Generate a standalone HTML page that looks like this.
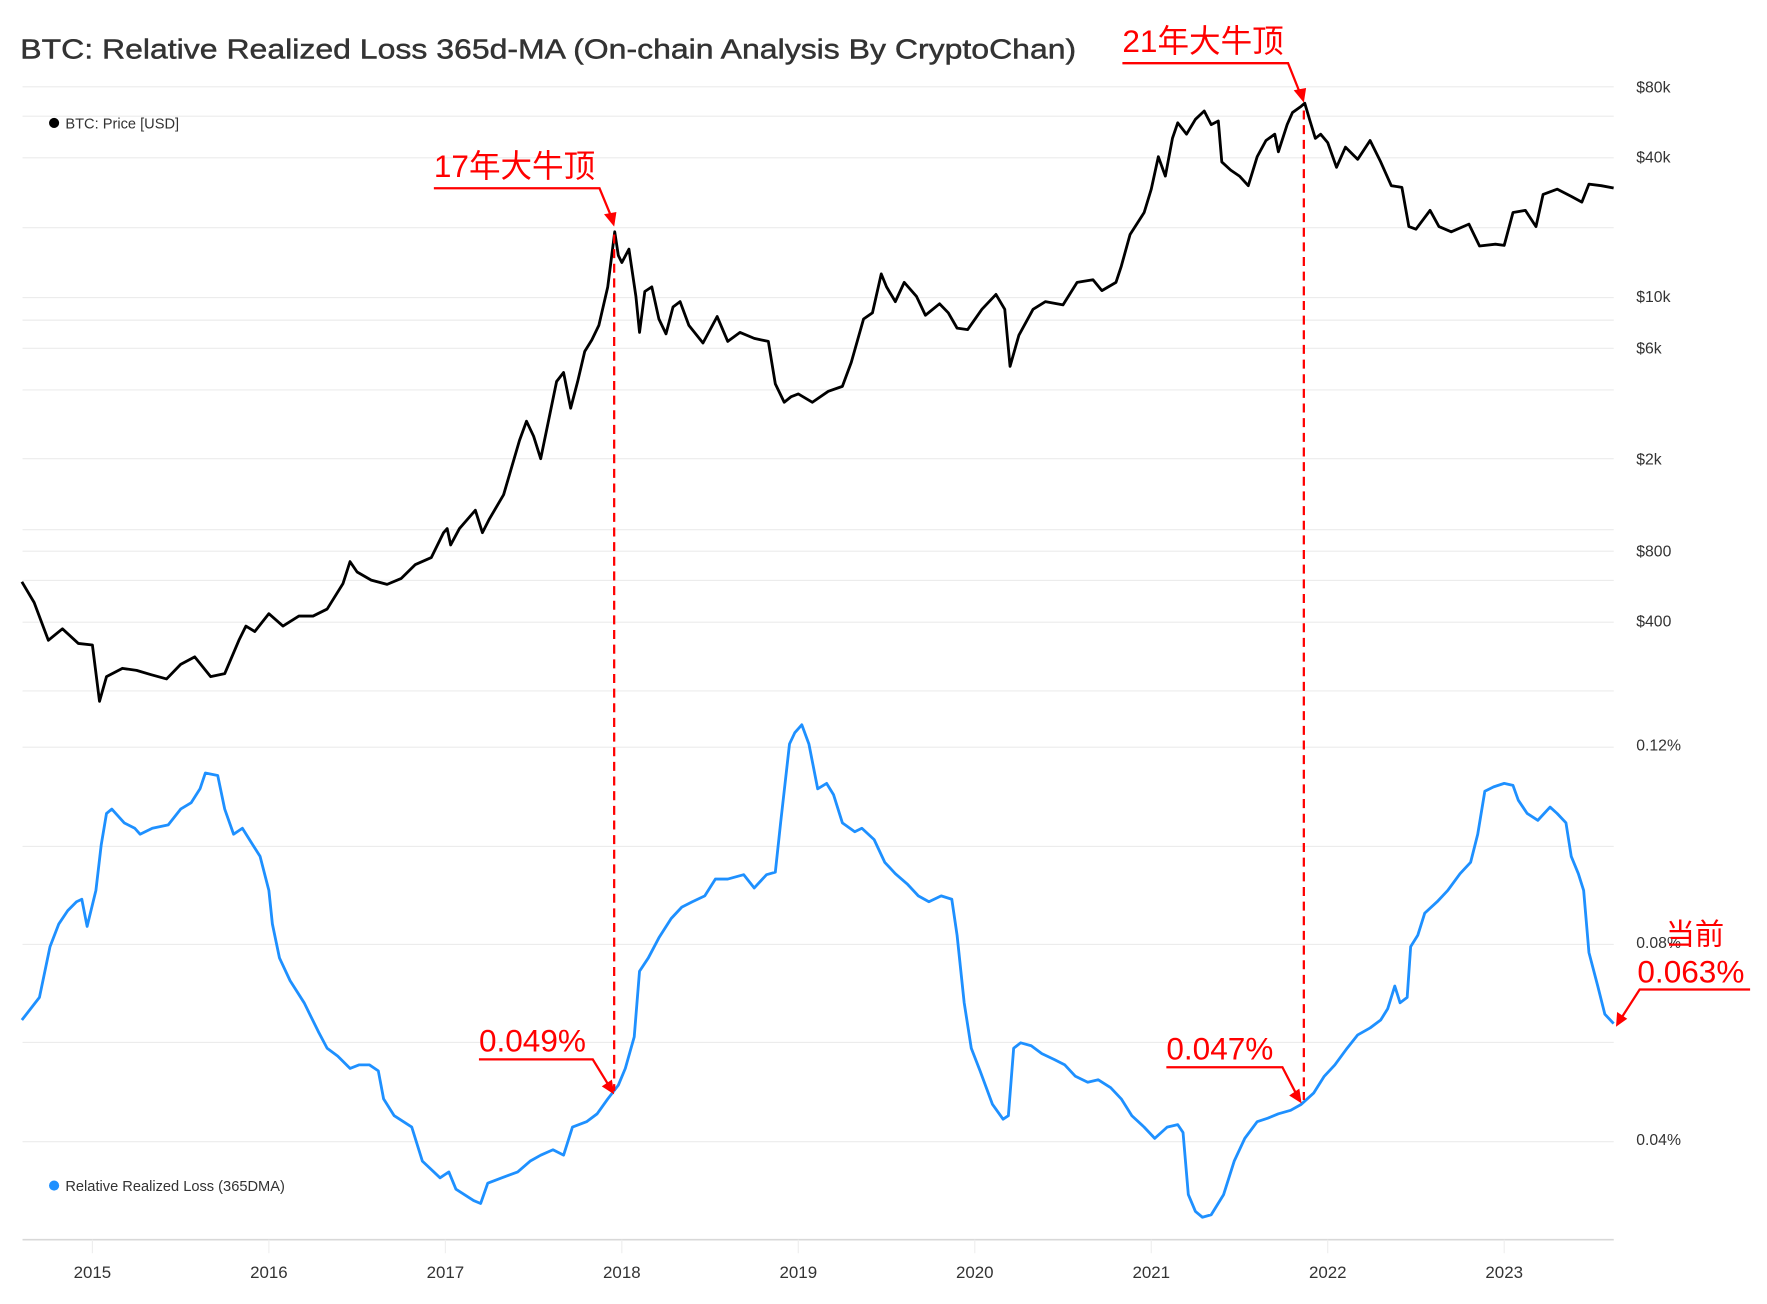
<!DOCTYPE html>
<html><head><meta charset="utf-8"><style>
html,body{margin:0;padding:0;background:#fff;}
svg{display:block;}
text{font-family:"Liberation Sans","Noto Sans CJK SC",sans-serif;}
</style></head><body>
<svg id="chart" width="1767" height="1304" viewBox="0 0 1568 1157" xmlns="http://www.w3.org/2000/svg">
<rect x="0" y="0" width="1568" height="1157" fill="#fff"/>
<text x="18" y="52" font-size="25" fill="#333" stroke="#333" stroke-width="0.4" textLength="937" lengthAdjust="spacingAndGlyphs">BTC: Relative Realized Loss 365d-MA (On-chain Analysis By CryptoChan)</text>
<g id="grid"></g>
<g id="axes"></g>
<g id="series"></g>
<g><circle cx="48" cy="109" r="4.5" fill="#000"/><text x="58" y="114" font-size="13" fill="#333">BTC: Price [USD]</text></g>
<g><circle cx="48" cy="1052" r="4.5" fill="#1e90ff"/><text x="58" y="1057" font-size="13" fill="#333">Relative Realized Loss (365DMA)</text></g>
<g id="annot" fill="none" stroke="#f00" stroke-width="2">
<line x1="545" y1="208" x2="545" y2="968" stroke-dasharray="8,5"/>
<line x1="1157" y1="98" x2="1157" y2="976" stroke-dasharray="8,5"/>
<polyline points="385,167 532,167 544,196"/>
<polyline points="996,56 1143,56 1155,86"/>
<polyline points="425,940 526,940 542,966"/>
<polyline points="1035,947 1138,947 1152,974"/>
<polyline points="1553,878 1455,878 1437,906"/>
<polygon points="545,201 536,190 547,188" fill="#f00" stroke="none"/>
<polygon points="1157,91 1148,80 1159,78" fill="#f00" stroke="none"/>
<polygon points="545,971 534,964 543,958" fill="#f00" stroke="none"/>
<polygon points="1155,979 1144,972 1153,966" fill="#f00" stroke="none"/>
<polygon points="1434,911 1435,898 1444,904" fill="#f00" stroke="none"/>
</g>
<g fill="#f00" font-size="28">
<text x="385" y="157">17年大牛顶</text>
<text x="996" y="46">21年大牛顶</text>
<text x="425" y="933">0.049%</text>
<text x="1035" y="940">0.047%</text>
<text x="1478" y="838" font-size="26">当前</text>
<text x="1453" y="872">0.063%</text>
</g>
</svg>
<script>
const years = [2015,2016,2017,2018,2019,2020,2021,2022,2023];
const priceTicks = [80000,40000,10000,6000,2000,800,400];
const priceTickLabels = ["$80k","$40k","$10k","$6k","$2k","$800","$400"];
const lossTicks = [0.12,0.08,0.04];
const lossTickLabels = ["0.12%","0.08%","0.04%"];
const priceDates = [2014.60,2014.67,2014.75,2014.83,2014.92,2015.0,2015.04,2015.08,2015.17,2015.25,2015.33,2015.42,2015.5,2015.58,2015.67,2015.75,2015.83,2015.87,2015.92,2016.0,2016.08,2016.17,2016.25,2016.33,2016.42,2016.46,2016.5,2016.58,2016.67,2016.75,2016.83,2016.92,2016.99,2017.01,2017.03,2017.08,2017.17,2017.21,2017.25,2017.33,2017.42,2017.46,2017.5,2017.54,2017.58,2017.63,2017.67,2017.71,2017.75,2017.79,2017.83,2017.87,2017.92,2017.96,2017.98,2018.0,2018.04,2018.08,2018.1,2018.13,2018.17,2018.21,2018.25,2018.29,2018.33,2018.38,2018.46,2018.54,2018.6,2018.67,2018.75,2018.83,2018.87,2018.92,2018.96,2019.0,2019.08,2019.17,2019.25,2019.3,2019.37,2019.42,2019.47,2019.5,2019.55,2019.6,2019.67,2019.72,2019.8,2019.85,2019.9,2019.96,2020.04,2020.12,2020.17,2020.2,2020.25,2020.33,2020.4,2020.5,2020.58,2020.67,2020.72,2020.8,2020.83,2020.88,2020.96,2021.0,2021.04,2021.08,2021.12,2021.15,2021.2,2021.25,2021.3,2021.34,2021.38,2021.4,2021.45,2021.5,2021.55,2021.6,2021.65,2021.7,2021.72,2021.77,2021.8,2021.85,2021.87,2021.9,2021.93,2021.96,2022.0,2022.05,2022.1,2022.17,2022.24,2022.3,2022.36,2022.42,2022.46,2022.5,2022.58,2022.63,2022.7,2022.8,2022.86,2022.95,2023.0,2023.05,2023.12,2023.18,2023.22,2023.3,2023.38,2023.44,2023.48,2023.55,2023.62];
const priceValues = [590,480,330,370,320,315,180,230,250,245,235,225,260,280,230,237,330,380,360,430,380,420,420,450,580,720,650,600,575,610,700,750,960,1000,850,1000,1200,960,1100,1400,2400,2900,2500,2000,2800,4300,4700,3300,4300,5800,6500,7500,11000,19000,15000,14000,16000,10000,7000,10500,11000,8000,6900,9000,9500,7500,6300,8200,6400,7000,6600,6400,4200,3500,3700,3800,3500,3900,4100,5200,8000,8500,12500,11000,9500,11500,10000,8300,9300,8500,7300,7200,8800,10200,8800,5000,6800,8800,9500,9200,11500,11800,10600,11500,13500,18500,23000,29000,40000,33000,48000,56000,50000,58000,63000,55000,57000,38000,35000,33000,30000,40000,47000,50000,42000,55000,62000,66000,68000,57000,48000,50000,46000,36000,44000,39000,47000,38000,30000,29500,20000,19500,23500,20000,19000,20500,16500,16800,16600,23000,23500,20000,27500,29000,27000,25500,30500,30000,29300];
const lossDates = [2014.60,2014.70,2014.76,2014.81,2014.86,2014.91,2014.94,2014.97,2015.02,2015.05,2015.08,2015.11,2015.18,2015.24,2015.27,2015.34,2015.43,2015.50,2015.56,2015.61,2015.64,2015.71,2015.75,2015.80,2015.85,2015.89,2015.95,2016.00,2016.02,2016.06,2016.12,2016.20,2016.28,2016.33,2016.39,2016.46,2016.51,2016.57,2016.62,2016.65,2016.71,2016.81,2016.87,2016.97,2017.02,2017.06,2017.16,2017.20,2017.24,2017.32,2017.41,2017.48,2017.54,2017.61,2017.67,2017.72,2017.80,2017.86,2017.92,2017.98,2018.02,2018.07,2018.10,2018.15,2018.21,2018.28,2018.34,2018.40,2018.47,2018.53,2018.60,2018.69,2018.75,2018.82,2018.87,2018.90,2018.95,2018.98,2019.02,2019.06,2019.11,2019.16,2019.20,2019.25,2019.32,2019.36,2019.43,2019.49,2019.55,2019.62,2019.68,2019.74,2019.81,2019.87,2019.90,2019.94,2019.98,2020.03,2020.10,2020.16,2020.19,2020.22,2020.26,2020.32,2020.38,2020.45,2020.51,2020.57,2020.64,2020.70,2020.77,2020.83,2020.89,2020.96,2021.02,2021.09,2021.15,2021.18,2021.21,2021.25,2021.29,2021.34,2021.41,2021.47,2021.53,2021.60,2021.66,2021.72,2021.79,2021.85,2021.92,2021.98,2022.04,2022.11,2022.17,2022.24,2022.30,2022.34,2022.38,2022.41,2022.45,2022.47,2022.51,2022.55,2022.62,2022.68,2022.75,2022.81,2022.85,2022.89,2022.94,2023.00,2023.05,2023.08,2023.13,2023.19,2023.26,2023.30,2023.35,2023.38,2023.42,2023.45,2023.48,2023.53,2023.57,2023.62];
const lossValues = [0.0642,0.0688,0.0791,0.0837,0.0864,0.0882,0.0887,0.0832,0.0905,0.0997,0.1061,0.1070,0.1042,0.1031,0.1019,0.1031,0.1038,0.1070,0.1083,0.1111,0.1143,0.1138,0.1070,0.1019,0.1031,0.1008,0.0974,0.0905,0.0837,0.0768,0.0722,0.0677,0.0619,0.0585,0.0569,0.0544,0.0551,0.0551,0.0539,0.0482,0.0448,0.0425,0.0356,0.0322,0.0334,0.0299,0.0276,0.0270,0.0311,0.0322,0.0334,0.0356,0.0368,0.0379,0.0368,0.0425,0.0436,0.0452,0.0482,0.0510,0.0544,0.0608,0.0741,0.0768,0.0809,0.0848,0.0871,0.0882,0.0894,0.0928,0.0928,0.0937,0.0910,0.0937,0.0942,0.1042,0.1202,0.1225,0.1241,0.1202,0.1111,0.1122,0.1099,0.1042,0.1024,0.1031,0.1008,0.0962,0.0939,0.0917,0.0894,0.0882,0.0894,0.0887,0.0814,0.0677,0.0585,0.0539,0.0471,0.0441,0.0448,0.0585,0.0596,0.0590,0.0574,0.0562,0.0551,0.0528,0.0516,0.0521,0.0505,0.0482,0.0448,0.0425,0.0402,0.0425,0.0430,0.0414,0.0288,0.0254,0.0242,0.0247,0.0288,0.0356,0.0402,0.0436,0.0443,0.0452,0.0459,0.0471,0.0494,0.0528,0.0551,0.0585,0.0612,0.0626,0.0642,0.0665,0.0711,0.0677,0.0688,0.0791,0.0814,0.0859,0.0882,0.0905,0.0939,0.0962,0.1019,0.1106,0.1115,0.1122,0.1118,0.1088,0.1061,0.1047,0.1074,0.1061,0.1042,0.0974,0.0939,0.0905,0.0779,0.0711,0.0654,0.0635];

const NS = "http://www.w3.org/2000/svg";
const X0 = 20, X1 = 1432;
function xScale(t){ return 82 + (t - 2015) * 156.6; }
function yPrice(p){ return 77 + Math.log2(80000 / p) * 62; }
function yLoss(v){ return 661 + (0.12 - v) * 4375; }
function mk(tag, attrs, parent){ const e = document.createElementNS(NS, tag); for (const k in attrs) e.setAttribute(k, attrs[k]); parent.appendChild(e); return e; }

const grid = document.getElementById('grid');
const gridYs = [77,103,140,202,264,284,309,346,407,470,489,515,552,613,663,751,838,925,1013];
gridYs.forEach(function(y){
  const l = mk('line', {x1:X0, x2:X1, y1:y, y2:y, stroke:'#ececec', 'stroke-width':1}, grid);
  
  
});
const axes = document.getElementById('axes');
const base = mk('line', {x1:X0, x2:X1, y1:1100, y2:1100, stroke:'#d8d8d8', 'stroke-width':1.5}, axes);


years.forEach(function(yr){
  const x = xScale(yr);
  mk('line', {x1:x, x2:x, y1:1100, y2:1112, stroke:'#eee', 'stroke-width':1}, axes);
  const t = mk('text', {x:x, y:1134, 'font-size':15, fill:'#333', 'text-anchor':'middle'}, axes);
  t.textContent = String(yr);
  
  
});
priceTicks.forEach(function(p, i){
  const t = mk('text', {x:1452, y:yPrice(p) + 5, 'font-size':14, fill:'#333'}, axes);
  t.textContent = priceTickLabels[i];
  
  
});
lossTicks.forEach(function(v, i){
  const t = mk('text', {x:1452, y:yLoss(v) + 5, 'font-size':14, fill:'#333'}, axes);
  t.textContent = lossTickLabels[i];
  
  
});
const series = document.getElementById('series');
let d = priceDates.map(function(t, i){ return (i ? 'L' : 'M') + xScale(t).toFixed(1) + ',' + yPrice(priceValues[i]).toFixed(1); }).join('');
const pl = mk('path', {d:d, fill:'none', stroke:'#000', 'stroke-width':2.5, 'stroke-linejoin':'round'}, series);


d = lossDates.map(function(t, i){ return (i ? 'L' : 'M') + xScale(t).toFixed(1) + ',' + yLoss(lossValues[i]).toFixed(1); }).join('');
const ll = mk('path', {d:d, fill:'none', stroke:'#1e90ff', 'stroke-width':2.5, 'stroke-linejoin':'round'}, series);


</script>
</body></html>
